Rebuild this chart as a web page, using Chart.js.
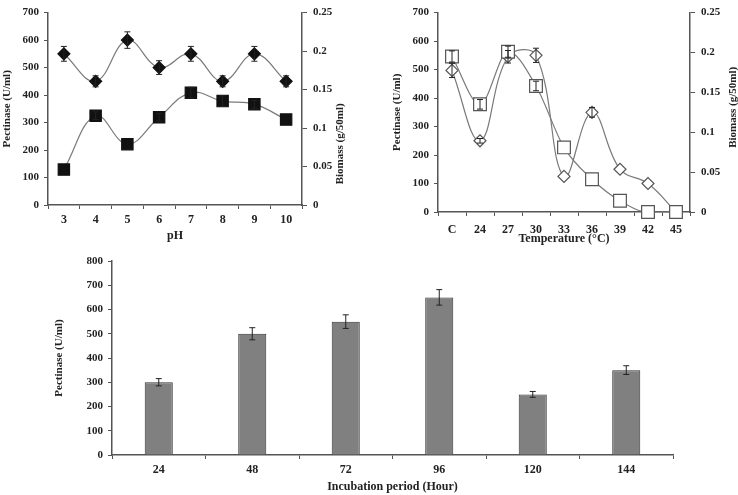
<!DOCTYPE html>
<html>
<head>
<meta charset="utf-8">
<script src="https://cdn.jsdelivr.net/npm/chart.js@4"></script>
<style>
  body { margin: 0; background: #fff; }
  #wrap { position: relative; width: 738px; height: 495px; overflow: hidden; }
  canvas { position: absolute; }
</style>
</head>
<body>
<div id="wrap">
  <canvas id="phChart" width="370" height="245" style="left:0;top:0"></canvas>
  <canvas id="tempChart" width="368" height="250" style="left:370px;top:0"></canvas>
  <canvas id="hourChart" width="738" height="250" style="left:0;top:245px"></canvas>
</div>
<script>
// pH panel
const phLabels = ['3', '4', '5', '6', '7', '8', '9', '10'];
const phPectinase = [550, 450, 600, 500, 550, 450, 550, 450];
const phPectinaseErr = [27, 20, 30, 25, 27, 20, 27, 20];
const phBiomass = [0.046, 0.116, 0.079, 0.114, 0.146, 0.135, 0.131, 0.111];
const phBiomassErr = [0, 0.005, 0, 0.005, 0.007, 0.007, 0.005, 0];

// temperature panel
const tempLabels = ['C', '24', '27', '30', '33', '36', '39', '42', '45'];
const tempPectinase = [497, 250, 545, 550, 125, 350, 150, 100, 0];
const tempPectinaseErr = [25, 8, 22, 25, 0, 17, 0, 0, 0];
const tempBiomass = [0.195, 0.135, 0.201, 0.158, 0.081, 0.041, 0.014, 0, 0];
const tempBiomassErr = [0.007, 0.006, 0.007, 0.006, 0, 0, 0, 0, 0];

// incubation panel
const hourLabels = ['24', '48', '72', '96', '120', '144'];
const hourPectinase = [300, 500, 550, 650, 250, 350];
const hourPectinaseErr = [15, 25, 28, 32, 12, 18];

Chart.defaults.font.family = 'Liberation Serif';
Chart.defaults.font.weight = 'bold';
Chart.defaults.font.size = 11;
Chart.defaults.color = '#222';

// draws +/- error bars from the dataset's errors array
const errorBars = {
    id: 'errorBars',
    afterDatasetsDraw(chart) {
        const ctx = chart.ctx;
        chart.data.datasets.forEach((ds, i) => {
            if (!ds.errors) return;
            const meta = chart.getDatasetMeta(i);
            const scale = chart.scales[meta.yAxisID];
            ctx.save();
            ctx.strokeStyle = '#222';
            ctx.lineWidth = 1;
            meta.data.forEach((pt, j) => {
                const e = ds.errors[j];
                if (!e) return;
                const top = scale.getPixelForValue(ds.data[j] + e);
                const bot = scale.getPixelForValue(ds.data[j] - e);
                ctx.beginPath();
                ctx.moveTo(pt.x, top); ctx.lineTo(pt.x, bot);
                ctx.moveTo(pt.x - 3, top); ctx.lineTo(pt.x + 3, top);
                ctx.moveTo(pt.x - 3, bot); ctx.lineTo(pt.x + 3, bot);
                ctx.stroke();
            });
            ctx.restore();
        });
    }
};

// right axis title, reading bottom to top
const sideTitle = {
    id: 'sideTitle',
    afterDraw(chart, args, opts) {
        if (!opts.text) return;
        const ctx = chart.ctx;
        const s = chart.scales.y1;
        const x = s.left + opts.dx;
        const y = (chart.chartArea.top + chart.chartArea.bottom) / 2 + opts.dy;
        ctx.save();
        ctx.translate(x, y);
        ctx.rotate(-Math.PI / 2);
        ctx.font = 'bold 11px "Liberation Serif"';
        ctx.fillStyle = '#222';
        ctx.textAlign = 'center';
        ctx.textBaseline = 'middle';
        ctx.fillText(opts.text, 0, 0);
        ctx.restore();
    }
};

const axisColor = '#555';

function xAxis(title, height, pad, tickPad) {
    return {
        type: 'category',
        offset: true,
        grid: { drawOnChartArea: false, offset: true, tickLength: 4, color: axisColor },
        border: { color: axisColor, width: 1.5 },
        ticks: { font: { size: 12 }, padding: tickPad },
        title: { display: true, text: title, font: { size: 12 }, padding: { top: 0, bottom: pad } },
        afterFit(s) { s.height = height; }
    };
}

function yAxis(max, title, width, pad) {
    return {
        min: 0, max: max,
        ticks: { stepSize: 100, padding: 5 },
        grid: { drawOnChartArea: false, tickLength: 4, color: axisColor },
        border: { color: axisColor, width: 1.5 },
        title: { display: true, text: title, font: { size: 11 }, padding: { top: pad, bottom: 0 } },
        afterFit(s) { s.width = width; }
    };
}

function y1Axis(width) {
    return {
        position: 'right',
        min: 0, max: 0.25,
        ticks: { stepSize: 0.05, padding: 6, callback: v => String(+v.toFixed(2)) },
        grid: { drawOnChartArea: false, tickLength: 5, color: axisColor },
        border: { color: axisColor, width: 1.5 },
        afterFit(s) { s.width = width; }
    };
}

new Chart(document.getElementById('phChart'), {
    type: 'line',
    data: {
        labels: phLabels,
        datasets: [{
            data: phBiomass,
            errors: phBiomassErr,
            yAxisID: 'y1',
            borderColor: '#7a7a7a',
            borderWidth: 1.2,
            tension: 0.4,
            clip: false,
            pointStyle: 'rect',
            pointRadius: 8,
            pointBackgroundColor: '#111',
            pointBorderColor: '#111'
        }, {
            data: phPectinase,
            errors: phPectinaseErr,
            yAxisID: 'y',
            borderColor: '#7a7a7a',
            borderWidth: 1.2,
            tension: 0.4,
            clip: false,
            pointStyle: 'rectRot',
            pointRadius: 6,
            pointBackgroundColor: '#111',
            pointBorderColor: '#111'
        }]
    },
    options: {
        responsive: false,
        animation: false,
        layout: { padding: { top: 5, left: 0, right: 0, bottom: 0 } },
        plugins: {
            legend: { display: false },
            tooltip: { enabled: false },
            sideTitle: { text: 'Biomass (g/50ml)', dx: 38, dy: 35 }
        },
        scales: {
            x: xAxis('pH', 40, 2, 4),
            y: yAxis(700, 'Pectinase (U/ml)', 48, 1),
            y1: y1Axis(68)
        }
    },
    plugins: [errorBars, sideTitle]
});

new Chart(document.getElementById('tempChart'), {
    type: 'line',
    data: {
        labels: tempLabels,
        datasets: [{
            data: tempBiomass,
            errors: tempBiomassErr,
            yAxisID: 'y1',
            borderColor: '#7a7a7a',
            borderWidth: 1.2,
            cubicInterpolationMode: 'monotone',
            clip: false,
            pointStyle: 'rect',
            pointRadius: 9,
            pointBackgroundColor: '#fff',
            pointBorderColor: '#555',
            pointBorderWidth: 1.2
        }, {
            data: tempPectinase,
            errors: tempPectinaseErr,
            yAxisID: 'y',
            borderColor: '#7a7a7a',
            borderWidth: 1.2,
            tension: 0.4,
            clip: false,
            pointStyle: 'rectRot',
            pointRadius: 6,
            pointBackgroundColor: '#fff',
            pointBorderColor: '#555',
            pointBorderWidth: 1.2
        }]
    },
    options: {
        responsive: false,
        animation: false,
        layout: { padding: { top: 12, left: 0, right: 0, bottom: 0 } },
        plugins: {
            legend: { display: false },
            tooltip: { enabled: false },
            sideTitle: { text: 'Biomass (g/50ml)', dx: 43, dy: -5 }
        },
        scales: {
            x: xAxis('Temperature (°C)', 38, 4, 7),
            y: yAxis(700, 'Pectinase (U/ml)', 68, 21),
            y1: y1Axis(48)
        }
    },
    plugins: [errorBars, sideTitle]
});

new Chart(document.getElementById('hourChart'), {
    type: 'bar',
    data: {
        labels: hourLabels,
        datasets: [{
            data: hourPectinase,
            errors: hourPectinaseErr,
            backgroundColor: '#808080',
            borderColor: '#333',
            borderWidth: 1,
            barPercentage: 0.3,
            categoryPercentage: 1
        }]
    },
    options: {
        responsive: false,
        animation: false,
        layout: { padding: { top: 16, left: 0, right: 65, bottom: 0 } },
        plugins: {
            legend: { display: false },
            tooltip: { enabled: false }
        },
        scales: {
            x: xAxis('Incubation period (Hour)', 40, 1, 4),
            y: yAxis(800, 'Pectinase (U/ml)', 112, 53)
        }
    },
    plugins: [errorBars]
});
</script>
</body>
</html>
